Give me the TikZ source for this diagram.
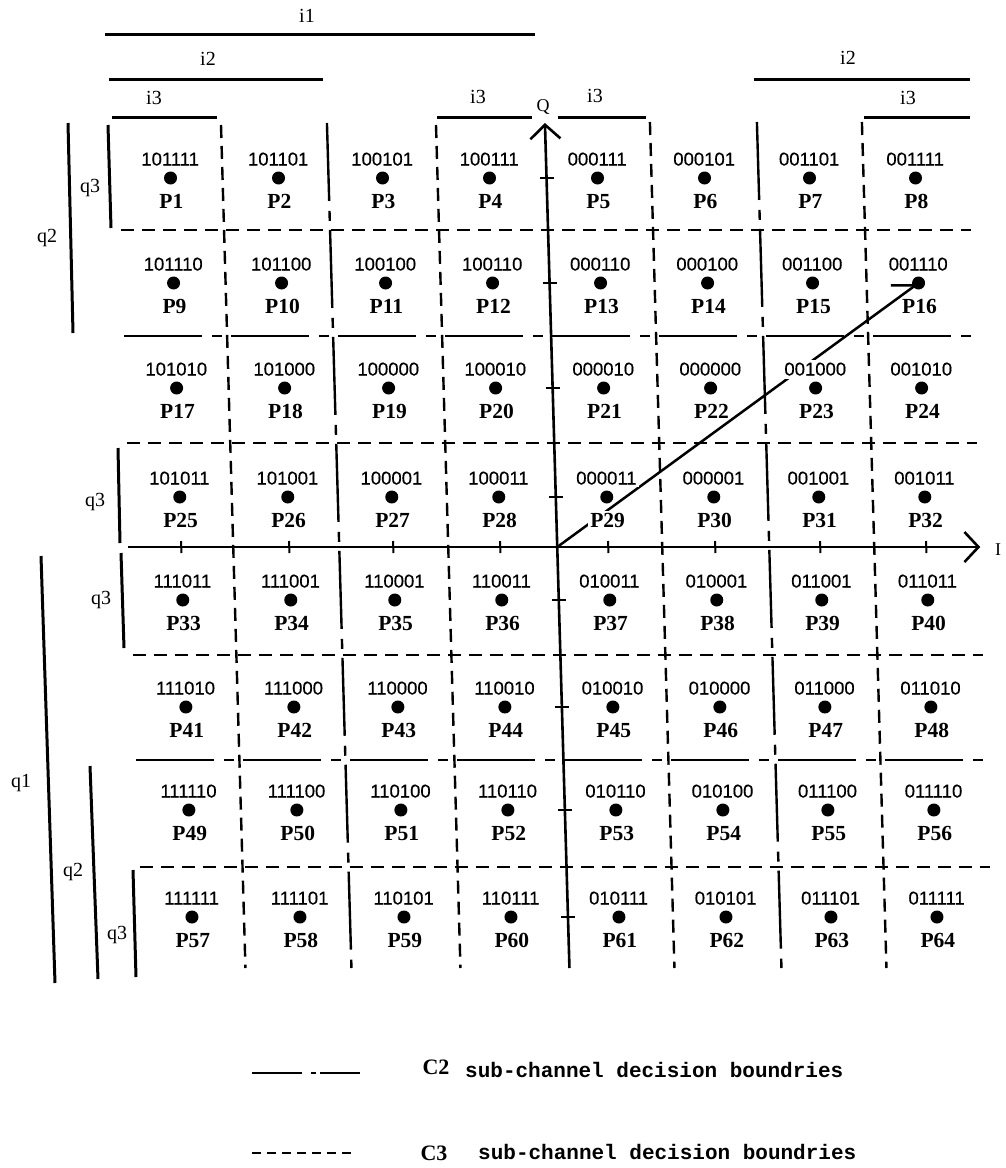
\documentclass[tikz,border=0pt]{standalone}
\usepackage{fontspec}
\setmainfont{Liberation Serif}
\newfontfamily\codefont[FakeBold=0.4]{Liberation Sans}
\newfontfamily\legendmono{Liberation Mono}
\usetikzlibrary{arrows.meta,backgrounds}
\tikzset{
  dotnode/.style={circle, fill=black, inner sep=0pt, minimum size=13pt},
  codetxt/.style={inner sep=1pt, anchor=base, font=\codefont\fontsize{18.5}{20}\selectfont},
  ptxt/.style={inner sep=1pt, anchor=base, font=\bfseries\fontsize{21.5}{23}\selectfont},
  annotxt/.style={inner sep=0pt, font=\fontsize{20}{22}\selectfont},
  annobar/.style={line width=3pt},
  cthree/.style={line width=2.4pt, dash pattern=on 13pt off 8pt},
  ctwo/.style={line width=2.4pt, dash pattern=on 78pt off 10pt on 10pt off 9pt},
  axisline/.style={line width=2.6pt, -{Straight Barb[length=14pt,width=30pt]}},
  tickmark/.style={line width=2pt},
  diagline/.style={line width=2.5pt, -{Straight Barb[harpoon,length=20pt,width=29pt]}},
  legtxt/.style={inner sep=0pt, font=\legendmono\bfseries\fontsize{21}{23}\selectfont},
  legsym/.style={inner sep=0pt, font=\bfseries\fontsize{22}{24}\selectfont},
}
\newcommand\cellpt[5][]{%
  \node[dotnode] (d#2) at (#3,#4) {};
  \node[codetxt,#1] (c#2) at (#3,#4-12.5) {#5};
  \node[ptxt,#1] (p#2) at (#3,#4+30) {P#2};
}
\begin{document}
\begin{tikzpicture}[x=1pt,y=-1pt]
\useasboundingbox (0,0) rectangle (1006,1168);
\begin{pgfonlayer}{background}
\fill[white] (0,0) rectangle (1006,1168);
\end{pgfonlayer}

% ---------- grid (slanted like the scan) ----------
\begin{scope}[xshift=-3.625pt, xslant=-0.029]
  % horizontal boundaries
  \draw[cthree] (118,230) -- (968,230);
  \draw[ctwo]   (118,336) -- (968,336);
  \draw[cthree] (118,443) -- (968,443);
  \draw[cthree] (118,655) -- (968,655);
  \draw[ctwo]   (118,760) -- (968,760);
  \draw[cthree] (118,867) -- (968,867);
  % vertical boundaries
  \draw[cthree] (221,125) -- (221,968);
  \draw[ctwo]   (327,123) -- (327,968);
  \draw[cthree] (436,125) -- (436,968);
  \draw[cthree] (650,122) -- (650,968);
  \draw[ctwo]   (757,122) -- (757,968);
  \draw[cthree] (862,122) -- (862,968);
  % axes
  \coordinate (O)  at (545,547);
  \coordinate (Qb) at (545,968);
  \coordinate (Qt) at (545,123);
  \coordinate (Il) at (116,547);
  \coordinate (Ir) at (968,547);
  \draw[axisline] (Qb) -- (Qt);
  \draw[axisline] (Il) -- (Ir);
  \foreach \yy in {178,283,388,497,600,707,810,917}
    \draw[tickmark] (538,\yy) -- (552,\yy);
  \foreach \xx in {169,277,381,488,596,703,808,914}
    \draw[tickmark] (\xx,541) -- (\xx,553);
  % row 1
  \cellpt{1}{169}{178}{101111}
  \cellpt{2}{277}{178}{101101}
  \cellpt{3}{381}{178}{100101}
  \cellpt{4}{488}{178}{100111}
  \cellpt{5}{596}{178}{000111}
  \cellpt{6}{703}{178}{000101}
  \cellpt{7}{808}{178}{001101}
  \cellpt{8}{914}{178}{001111}
  % row 2
  \cellpt{9}{169}{283}{101110}
  \cellpt{10}{277}{283}{101100}
  \cellpt{11}{381}{283}{100100}
  \cellpt{12}{488}{283}{100110}
  \cellpt{13}{596}{283}{000110}
  \cellpt{14}{703}{283}{000100}
  \cellpt{15}{808}{283}{001100}
  \cellpt{16}{914}{283}{001110}
  % row 3
  \cellpt{17}{169}{388}{101010}
  \cellpt{18}{277}{388}{101000}
  \cellpt{19}{381}{388}{100000}
  \cellpt{20}{488}{388}{100010}
  \cellpt{21}{596}{388}{000010}
  \cellpt{22}{703}{388}{000000}
  \cellpt[fill=white,inner sep=3pt]{23}{808}{388}{001000}
  \cellpt{24}{914}{388}{001010}
  % row 4
  \cellpt{25}{169}{497}{101011}
  \cellpt{26}{277}{497}{101001}
  \cellpt{27}{381}{497}{100001}
  \cellpt{28}{488}{497}{100011}
  \cellpt[fill=white,inner sep=2pt]{29}{596}{497}{000011}
  \cellpt{30}{703}{497}{000001}
  \cellpt{31}{808}{497}{001001}
  \cellpt{32}{914}{497}{001011}
  % row 5
  \cellpt{33}{169}{600}{111011}
  \cellpt{34}{277}{600}{111001}
  \cellpt{35}{381}{600}{110001}
  \cellpt{36}{488}{600}{110011}
  \cellpt{37}{596}{600}{010011}
  \cellpt{38}{703}{600}{010001}
  \cellpt{39}{808}{600}{011001}
  \cellpt{40}{914}{600}{011011}
  % row 6
  \cellpt{41}{169}{707}{111010}
  \cellpt{42}{277}{707}{111000}
  \cellpt{43}{381}{707}{110000}
  \cellpt{44}{488}{707}{110010}
  \cellpt{45}{596}{707}{010010}
  \cellpt{46}{703}{707}{010000}
  \cellpt{47}{808}{707}{011000}
  \cellpt{48}{914}{707}{011010}
  % row 7
  \cellpt{49}{169}{810}{111110}
  \cellpt{50}{277}{810}{111100}
  \cellpt{51}{381}{810}{110100}
  \cellpt{52}{488}{810}{110110}
  \cellpt{53}{596}{810}{010110}
  \cellpt{54}{703}{810}{010100}
  \cellpt{55}{808}{810}{011100}
  \cellpt{56}{914}{810}{011110}
  % row 8
  \cellpt{57}{169}{917}{111111}
  \cellpt{58}{277}{917}{111101}
  \cellpt{59}{381}{917}{110101}
  \cellpt{60}{488}{917}{110111}
  \cellpt{61}{596}{917}{010111}
  \cellpt{62}{703}{917}{010101}
  \cellpt{63}{808}{917}{011101}
  \cellpt{64}{914}{917}{011111}
\end{scope}

% diagonal vector from origin to P16 (behind the white label boxes)
\begin{pgfonlayer}{background}
\draw[diagline] (O) -- (d16.center);
\end{pgfonlayer}

% axis names
\node[annotxt, font=\fontsize{18}{20}\selectfont] (Qlab) at (543,107) {Q};
\node[annotxt, font=\fontsize{18}{20}\selectfont] (Ilab) at (998,550) {I};

% ---------- top i-bars ----------
\draw[annobar] (105,34) -- (535,34);
\node[annotxt] (i1) at (307,16) {i1};
\draw[annobar] (109,79) -- (323,79);
\node[annotxt] (i2a) at (208,59) {i2};
\draw[annobar] (112,117) -- (217,117);
\node[annotxt] (i3a) at (154,98) {i3};
\draw[annobar] (437,117) -- (532,117);
\node[annotxt] (i3b) at (478,97) {i3};
\draw[annobar] (558,117) -- (646,117);
\node[annotxt] (i3c) at (595,96) {i3};
\draw[annobar] (754,79) -- (970,79);
\node[annotxt] (i2b) at (848,58) {i2};
\draw[annobar] (864,117) -- (970,117);
\node[annotxt] (i3d) at (908,98) {i3};

% ---------- left q-bars ----------
\draw[annobar] (108,125) -- (111,228);
\node[annotxt] (q3a) at (90,188) {q3};
\draw[annobar] (68,123) -- (73,333);
\node[annotxt] (q2a) at (47,238) {q2};
\draw[annobar] (118,448) -- (120,543);
\node[annotxt] (q3b) at (95,502) {q3};
\draw[annobar] (121,553) -- (124,648);
\node[annotxt] (q3c) at (101,600) {q3};
\draw[annobar] (41,556) -- (55,983);
\node[annotxt] (q1) at (21,783) {q1};
\draw[annobar] (90,766) -- (98,979);
\node[annotxt] (q2b) at (73,872) {q2};
\draw[annobar] (133,870) -- (136,977);
\node[annotxt] (q3d) at (117,935) {q3};

% ---------- legend ----------
\draw[line width=2.6pt, dash pattern=on 50pt off 9pt on 5pt off 4pt] (252,1073) -- (360,1073);
\node[legsym] (C2) at (436,1067) {C2};
\node[legtxt, anchor=base west] (C2t) at (465,1077) {sub-channel decision boundries};
\draw[line width=2.6pt, dash pattern=on 9pt off 6pt] (252,1153) -- (355,1153);
\node[legsym] (C3) at (434,1153) {C3};
\node[legtxt, anchor=base west] (C3t) at (478,1159) {sub-channel decision boundries};
\end{tikzpicture}
\end{document}
